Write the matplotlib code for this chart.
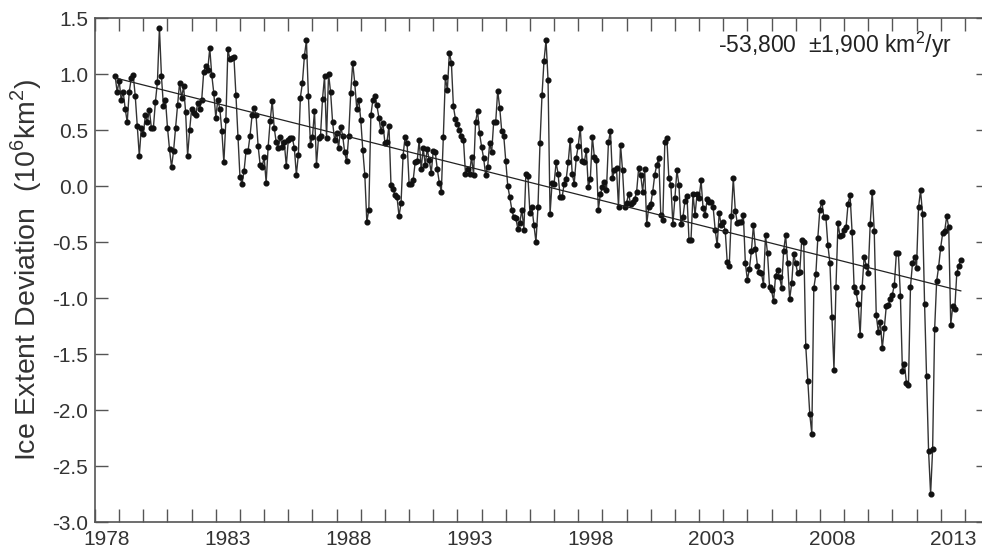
import numpy as np
import matplotlib
matplotlib.use("Agg")
import matplotlib.pyplot as plt

plt.rcParams["font.family"] = ["Liberation Sans", "DejaVu Sans"]
plt.rcParams["mathtext.fontset"] = "custom"
plt.rcParams["mathtext.rm"] = "Liberation Sans"
plt.rcParams["axes.unicode_minus"] = False

# monthly sea ice extent deviation (10^6 km^2), starting Nov 1978
dev_1978_1984 = [
    0.98, 0.84, 0.94, 0.77, 0.84, 0.69, 0.57, 0.84, 0.96, 0.99,
    0.80, 0.54, 0.27, 0.52, 0.46, 0.63, 0.57, 0.68, 0.52, 0.52,
    0.75, 0.93, 1.41, 0.98, 0.71, 0.77, 0.52, 0.33, 0.17, 0.31,
    0.52, 0.72, 0.92, 0.79, 0.89, 0.66, 0.27, 0.50, 0.69, 0.65,
    0.63, 0.74, 0.69, 0.77, 1.02, 1.07, 1.04, 1.23, 0.99, 0.83,
    0.61, 0.77, 0.69, 0.49, 0.21, 0.59, 1.22, 1.13, 1.14, 1.15,
    0.81, 0.44, 0.08, 0.02, 0.13, 0.31, 0.31, 0.45,
]
dev_1984_1990 = [
    0.63, 0.70, 0.63, 0.36, 0.19, 0.17, 0.26, 0.03, 0.35, 0.58,
    0.76, 0.52, 0.39, 0.34, 0.44, 0.35, 0.39, 0.18, 0.41, 0.43,
    0.43, 0.34, 0.10, 0.28, 0.79, 0.92, 1.16, 1.30, 0.80, 0.37,
    0.44, 0.67, 0.19, 0.43, 0.45, 0.78, 0.98, 0.43, 1.00, 0.84,
    0.57, 0.41, 0.47, 0.34, 0.53, 0.45, 0.30, 0.22, 0.45, 0.83,
    1.10, 0.92, 0.69, 0.77, 0.59, 0.32, 0.10, -0.32, -0.21, 0.63,
    0.77, 0.80, 0.72, 0.61, 0.49, 0.56, 0.38, 0.39, 0.54, 0.01,
    -0.03, -0.08, -0.10, -0.27,
]
dev_1990_1996 = [
    -0.15, 0.27, 0.44, 0.38, 0.02, 0.02, 0.05, 0.21, 0.22, 0.41,
    0.15, 0.34, 0.19, 0.33, 0.23, 0.12, 0.31, 0.30, 0.15, 0.03,
    -0.05, 0.44, 0.97, 0.86, 1.19, 1.10, 0.71, 0.60, 0.55, 0.50,
    0.45, 0.41, 0.11, 0.15, 0.11, 0.26, 0.10, 0.57, 0.67, 0.47,
    0.35, 0.25, 0.10, 0.17, 0.38, 0.30, 0.57, 0.57, 0.85, 0.70,
    0.49, 0.45, 0.22, 0.00, -0.10, -0.21, -0.28, -0.29, -0.38, -0.33,
    -0.21, -0.39, 0.11, 0.09, -0.24, -0.19, -0.35, -0.50, -0.19, 0.38,
    0.81, 1.12, 1.30, 0.95,
]
dev_1996_2002 = [
    -0.25, 0.03, 0.02, 0.21, 0.11, -0.10, -0.10, 0.02, 0.06, 0.21,
    0.41, 0.11, 0.02, 0.25, 0.36, 0.52, 0.22, 0.21, 0.32, -0.01,
    0.06, 0.44, 0.26, 0.23, -0.21, -0.07, -0.01, 0.04, -0.04, 0.39,
    0.49, 0.07, 0.14, 0.16, -0.19, 0.37, 0.14, -0.19, -0.15, -0.07,
    -0.16, -0.14, -0.12, -0.05, 0.16, 0.10, -0.05, 0.15, -0.34, -0.19,
    -0.16, -0.05, 0.10, 0.19, 0.25, -0.26, -0.30, 0.39, 0.43, 0.07,
    0.01, -0.34, -0.11, 0.14, 0.01, -0.34, -0.28, -0.13, -0.09, -0.48,
    -0.48, -0.07, -0.26, -0.07,
]
dev_2003_2008 = [
    -0.11, 0.05, -0.20, -0.26, -0.12, -0.14, -0.14, -0.19, -0.39, -0.53,
    -0.24, -0.35, -0.32, -0.40, -0.68, -0.71, -0.27, 0.07, -0.22, -0.33,
    -0.32, -0.32, -0.26, -0.69, -0.84, -0.74, -0.58, -0.35, -0.56, -0.71,
    -0.77, -0.78, -0.88, -0.44, -0.60, -0.90, -0.93, -1.03, -0.80, -0.75,
    -0.81, -0.91, -0.58, -0.44, -0.69, -1.01, -0.87, -0.61, -0.69, -0.78,
    -0.77, -0.48, -0.50, -1.43, -1.74, -2.04, -2.21, -0.91, -0.79, -0.46,
    -0.21, -0.14, -0.28, -0.28, -0.53, -0.69, -1.17, -1.64, -0.90, -0.33,
    -0.45, -0.44, -0.39,
]
dev_2009_2013 = [
    -0.37, -0.16, -0.08, -0.41, -0.90, -0.95, -1.05, -1.33, -0.90, -0.63,
    -0.71, -0.78, -0.34, -0.05, -0.40, -1.15, -1.30, -1.21, -1.45, -1.27,
    -1.07, -1.06, -1.01, -0.97, -0.88, -0.60, -0.60, -0.98, -1.65, -1.59,
    -1.76, -1.78, -0.90, -0.69, -0.63, -0.73, -0.19, -0.04, -0.25, -1.05,
    -1.70, -2.37, -2.75, -2.35, -1.28, -0.85, -0.72, -0.55, -0.42, -0.40,
    -0.27, -0.37, -1.24, -1.07, -1.10, -0.78, -0.71, -0.66,
]

start_year, start_month = 1978, 11
year_labels = [1978, 1983, 1988, 1993, 1998, 2003, 2008, 2013]
y_ticks = [-3.0, -2.5, -2.0, -1.5, -1.0, -0.5, 0.0, 0.5, 1.0, 1.5]
trend_text = "-53,800  \u00b11,900 km$^2$/yr"

dev = np.array(dev_1978_1984 + dev_1984_1990 + dev_1990_1996
               + dev_1996_2002 + dev_2003_2008 + dev_2009_2013)
t = start_year + (start_month - 1 + np.arange(len(dev))) / 12.0

fig = plt.figure(figsize=(9.82, 5.5), dpi=100)
ax = fig.add_axes([95 / 982, 28 / 550, 894 / 982, 504 / 550])

ax.plot(t, dev, color="#333333", lw=1.0, marker="o", ms=3.4,
        mfc="#111111", mec="#111111")

# linear trend
coef = np.polyfit(t, dev, 1)
ax.plot([t[0], t[-1]], np.polyval(coef, [t[0], t[-1]]), color="#222222", lw=0.9)

ax.set_xlim(1978, 2015)
ax.set_ylim(-3.0, 1.5)

ax.set_xticks(np.arange(1978, 2016), labels=[""] * 38)
ax.set_xticks([y + 0.5 for y in year_labels], labels=[str(y) for y in year_labels], minor=True)
ax.set_yticks(y_ticks, labels=["%.1f" % v for v in y_ticks])

ax.tick_params(which="major", direction="in", length=9.5, width=1.0,
               color="#555555", top=True, right=True, labelsize=15,
               labelcolor="#333333", pad=5)
ax.tick_params(axis="x", which="minor", length=0, labelsize=15,
               labelcolor="#333333", pad=6)
for s in ax.spines.values():
    s.set_color("#555555")
    s.set_linewidth(1.2)

ax.set_ylabel("Ice Extent Deviation  (10$^6$km$^2$)", fontsize=20.5,
              color="#333333", labelpad=6)
ax.text(0.9586, 0.946, trend_text, transform=ax.transAxes, ha="right",
        va="center", fontsize=16.5, color="#222222")

fig.savefig("out.png", dpi=100)
